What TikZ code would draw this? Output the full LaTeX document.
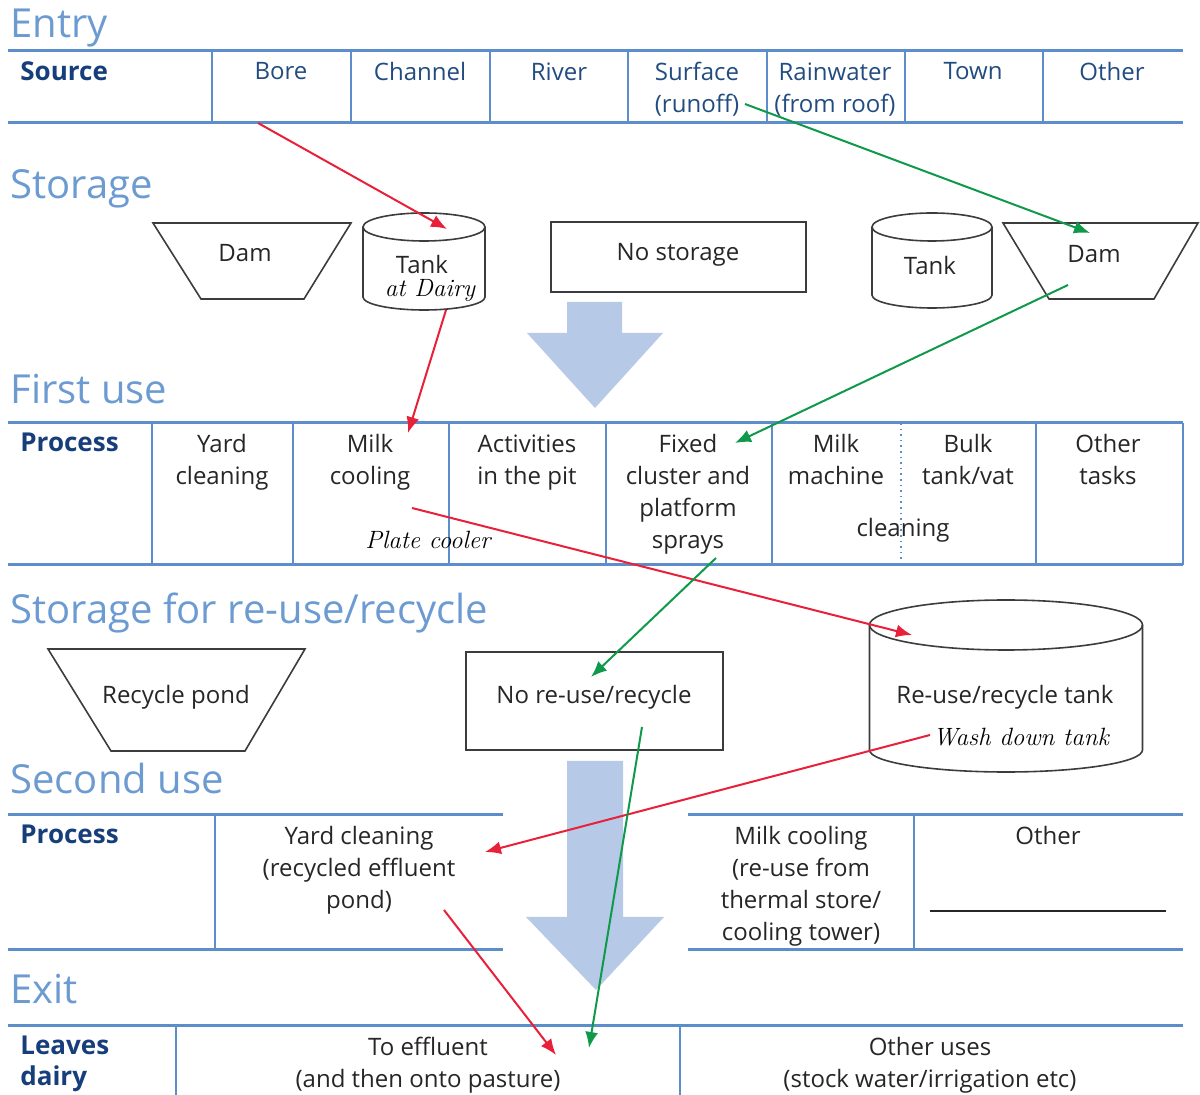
\documentclass[tikz,border=0pt]{standalone}
\usepackage{fontspec}
\setsansfont{Open Sans}
\usepackage{tikz}
\usetikzlibrary{arrows.meta,positioning,calc}
\definecolor{headblue}{RGB}{108,155,210}
\definecolor{ruleblue}{RGB}{93,142,204}
\definecolor{navy}{RGB}{22,62,122}
\definecolor{srcblue}{RGB}{34,76,128}
\definecolor{flowfill}{RGB}{182,201,230}
\definecolor{redflow}{RGB}{232,32,58}
\definecolor{greenflow}{RGB}{14,154,74}
\definecolor{shapegray}{RGB}{60,60,60}
\tikzstyle{heading} = [anchor=base west,text=headblue,inner sep=0pt,font=\sffamily\fontsize{20}{24}\selectfont]
\tikzstyle{cell} = [anchor=north,align=center,inner sep=0pt,text=black!85,font=\sffamily\fontsize{12}{16}\selectfont]
\tikzstyle{srccell} = [cell,text=srcblue]
\tikzstyle{rowhead} = [anchor=north west,align=left,inner sep=0pt,text=navy,font=\sffamily\bfseries\fontsize{13}{15.5}\selectfont]
\tikzstyle{shapelabel} = [inner sep=0pt,text=black!85,font=\sffamily\fontsize{12}{16}\selectfont]
\tikzstyle{hand} = [inner sep=0pt,font=\rmfamily\itshape\fontsize{12.5}{14}\selectfont]
\tikzstyle{tablerule} = [ruleblue,line width=1.5pt]
\tikzstyle{divider} = [ruleblue,line width=0.8pt]
\tikzstyle{shapeline} = [shapegray,line width=0.8pt]
\tikzstyle{bigarrow} = [fill=flowfill,draw=none]
\tikzstyle{redarrow} = [->,redflow,line width=1pt]
\tikzstyle{greenarrow} = [->,greenflow,line width=1pt]
\tikzset{>={Latex[length=8pt,width=6.5pt]}}

\begin{document}
\begin{tikzpicture}[x=0.5pt,y=-0.5pt]
    \useasboundingbox (0,0) rectangle (1200,1095);

    \node [heading] (hentry) at (10,38) {Entry};
    \draw [tablerule] (8,51) -- (1183,51);
    \draw [tablerule] (8,123) -- (1183,123);
    \foreach \x in {212,351,490,628,767,905,1043}
        \draw [divider] (\x,51) -- (\x,123);
    \node [rowhead] (source) at (20,61) {Source};
    \node [srccell] (bore) at (281,62) {Bore};
    \node [srccell] (channel) at (420,62) {Channel};
    \node [srccell] (river) at (559,62) {River};
    \node [srccell] (surface) at (697,62) {Surface\\(runoff)};
    \node [srccell] (rainwater) at (835,62) {Rainwater\\(from roof)};
    \node [srccell] (town) at (973,62) {Town};
    \node [srccell] (othersrc) at (1112,62) {Other};

    \node [heading] (hstorage) at (10,199) {Storage};
    \draw [shapeline] (153,223) -- (351,223) -- (304,299) -- (201,299) -- cycle;
    \node [shapelabel] (damA) at (245,253) {Dam};
    \draw [shapeline] (424,227) ellipse [x radius=61,y radius=14];
    \draw [shapeline] (363,227) -- (363,297) arc [start angle=180,end angle=0,x radius=61,y radius=13] -- (485,227);
    \node [shapelabel] (tankA) at (422,265) {Tank};
    \node [hand] (dairy) at (430,291) {at Dairy};
    \draw [shapeline] (551,222) rectangle (806,292);
    \node [shapelabel] (nostore) at (678,255) {No storage};
    \draw [shapeline] (932,227) ellipse [x radius=60,y radius=14];
    \draw [shapeline] (872,227) -- (872,295) arc [start angle=180,end angle=0,x radius=60,y radius=13] -- (992,227);
    \node [shapelabel] (tankB) at (930,266) {Tank};
    \draw [shapeline] (1003,223) -- (1198,223) -- (1154,299) -- (1049,299) -- cycle;
    \node [shapelabel] (damB) at (1094,254) {Dam};

    \fill [bigarrow] (567,302) -- (622,302) -- (622,333) -- (663,333) -- (595,408) -- (527,333) -- (567,333) -- cycle;

    \node [heading] (hfirst) at (10,404) {First use};
    \draw [tablerule] (8,423) -- (1183,423);
    \draw [tablerule] (8,565) -- (1183,565);
    \foreach \x in {152,293,449,606,772,1036,1183}
        \draw [divider] (\x,423) -- (\x,565);
    \draw [ruleblue,line width=0.8pt,dotted] (901,423) -- (901,565);
    \node [rowhead] (processA) at (20,433) {Process};
    \node [cell] (yardA) at (222,434) {Yard\\cleaning};
    \node [cell] (milkA) at (370,434) {Milk\\cooling};
    \node [cell] (pit) at (527,434) {Activities\\in the pit};
    \node [cell] (cluster) at (688,434) {Fixed\\cluster and\\platform\\sprays};
    \node [cell] (machine) at (836,434) {Milk\\machine};
    \node [cell] (bulk) at (968,434) {Bulk\\tank/vat};
    \node [cell] (cleaning) at (903,518) {cleaning};
    \node [cell] (otherA) at (1108,434) {Other\\tasks};
    \node [hand] (plate) at (428,540) {Plate cooler};

    \node [heading] (hrecycle) at (10,624) {Storage for re-use/recycle};
    \draw [shapeline] (48,649) -- (305,649) -- (245,751) -- (111,751) -- cycle;
    \node [shapelabel] (pond) at (176,697) {Recycle pond};
    \draw [shapeline] (466,652) rectangle (723,750);
    \node [shapelabel] (noreuse) at (594,697) {No re-use/recycle};
    \draw [shapeline] (1006,625) ellipse [x radius=136.5,y radius=25];
    \draw [shapeline] (869.5,625) -- (869.5,750) arc [start angle=180,end angle=0,x radius=136.5,y radius=22] -- (1142.5,625);
    \node [shapelabel] (reusetank) at (1005,697) {Re-use/recycle tank};
    \node [hand] (washdown) at (1021,737) {Wash down tank};

    \fill [bigarrow] (567,761) -- (623,761) -- (623,917) -- (664,917) -- (596,990) -- (526,917) -- (567,917) -- cycle;

    \node [heading] (hsecond) at (10,794) {Second use};
    \draw [tablerule] (8,815) -- (503,815);
    \draw [tablerule] (8,950) -- (503,950);
    \draw [tablerule] (688,815) -- (1183,815);
    \draw [tablerule] (688,950) -- (1183,950);
    \draw [divider] (215,815) -- (215,950);
    \draw [divider] (914,815) -- (914,950);
    \node [rowhead] (processB) at (20,825) {Process};
    \node [cell] (yardB) at (359,826) {Yard cleaning\\(recycled effluent\\pond)};
    \node [cell] (milkB) at (801,826) {Milk cooling\\(re-use from\\thermal store/\\cooling tower)};
    \node [cell] (otherB) at (1048,826) {Other};
    \draw [black!85,line width=0.6pt] (930,911) -- (1166,911);

    \node [heading] (hexit) at (10,1003) {Exit};
    \draw [tablerule] (8,1025) -- (1183,1025);
    \draw [divider] (176,1025) -- (176,1095);
    \draw [divider] (680,1025) -- (680,1095);
    \node [rowhead] (leaves) at (20,1036) {Leaves\\dairy};
    \node [cell] (effluent) at (428,1037) {To effluent\\(and then onto pasture)};
    \node [cell] (otheruse) at (930,1037) {Other uses\\(stock water/irrigation etc)};

    \draw [redarrow] ($(bore.north)+(-23,61)$) -- ($(tankA)+(25,-36)$);
    \draw [greenarrow] ($(surface.north)+(48,42)$) -- ($(damB)+(-4,-21)$);
    \draw [redarrow] ($(tankA)+(24,45)$) -- ($(milkA.north)+(38,-1)$);
    \draw [greenarrow] ($(damB)+(-26,31)$) -- ($(cluster.north)+(47,9)$);
    \draw [redarrow] ($(milkA.north)+(42,74)$) -- ($(reusetank)+(-93,-62)$);
    \draw [greenarrow] ($(cluster.north)+(28,124)$) -- ($(noreuse)+(-3,-20)$);
    \draw [redarrow] ($(reusetank)+(-75,38)$) -- ($(yardB.north)+(126,26)$);
    \draw [greenarrow] ($(noreuse)+(48,30)$) -- ($(effluent.north)+(161,11)$);
    \draw [redarrow] ($(yardB.north)+(85,84)$) -- ($(effluent.north)+(128,18)$);
\end{tikzpicture}
\end{document}
